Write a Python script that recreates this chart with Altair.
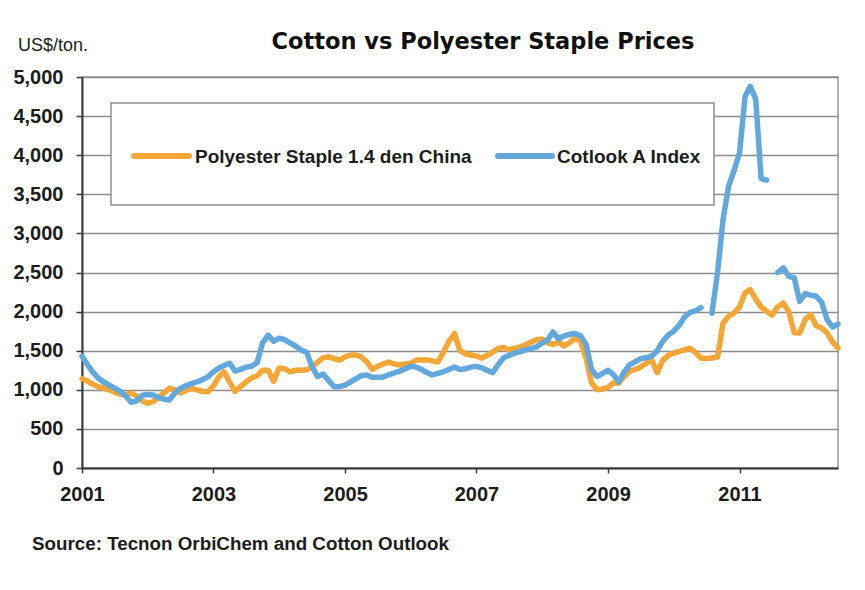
import altair as alt
import pandas as pd

# Monthly observations, Jan 2001 - Jul 2012 (US$/ton)
start_month = "2001-01-01"
n_months = 139

polyester = [
    1140, 1110, 1070, 1040, 1020, 1000, 970, 945, 935, 960, 920, 860,
    830, 850, 900, 960, 1020, 1000, 960, 990, 1020, 1000, 980, 975,
    1050, 1170, 1230, 1100, 980, 1040, 1100, 1150, 1180, 1250, 1250, 1110,
    1280, 1270, 1230, 1250, 1250, 1255, 1290, 1350, 1410, 1420, 1400, 1380,
    1420, 1445, 1445, 1420, 1360, 1260, 1300, 1330, 1355, 1330, 1317, 1330,
    1340, 1380, 1380, 1380, 1370, 1355, 1480, 1620, 1720, 1500, 1460, 1445,
    1430, 1406, 1440, 1483, 1530, 1540, 1510, 1530, 1547, 1580, 1610, 1640,
    1650, 1600, 1580, 1610, 1560, 1600, 1660, 1620, 1400, 1090, 1000, 1010,
    1030, 1090, 1087, 1170, 1240, 1260, 1290, 1340, 1380, 1220, 1380, 1440,
    1470, 1490, 1510, 1530, 1480, 1406, 1400, 1406, 1420, 1850, 1940, 1980,
    2060, 2240, 2280, 2160, 2060, 2000, 1956, 2060, 2110, 2000, 1730, 1726,
    1900, 1960, 1820, 1790, 1730, 1610, 1535,
]

# None marks months with no quote (the line breaks there)
cotlook = [
    1430, 1320, 1230, 1150, 1100, 1060, 1020, 980, 920, 840, 860, 930,
    940, 935, 900, 880, 870, 960, 1020, 1050, 1080, 1100, 1130, 1165,
    1230, 1280, 1310, 1340, 1240, 1260, 1290, 1300, 1350, 1600, 1700, 1620,
    1660, 1640, 1600, 1560, 1510, 1480, 1300, 1170, 1200, 1120, 1040, 1040,
    1060, 1100, 1140, 1180, 1190, 1160, 1160, 1165, 1190, 1215, 1240, 1270,
    1300, 1290, 1260, 1220, 1190, 1210, 1230, 1260, 1290, 1260, 1270, 1290,
    1300, 1280, 1250, 1220, 1320, 1410, 1440, 1470, 1490, 1510, 1530, 1550,
    1600, 1640, 1740, 1650, 1690, 1710, 1720, 1690, 1580, 1260, 1170, 1210,
    1250, 1190, 1100, 1230, 1320, 1360, 1400, 1410, 1430, 1500, 1620, 1700,
    1750, 1830, 1930, 1990, 2010, 2050, None, 1980, 2500, 3170, 3600, 3800,
    4030, 4750, 4880, 4720, 3700, 3680, None, 2500, 2560, 2450, 2430, 2130,
    2230, 2210, 2200, 2120, 1900, 1800, 1840,
]

series_names = ["Polyester Staple 1.4 den China", "Cotlook A Index"]
series_colors = ["#F4A636", "#62A8DC"]
y_ticks = list(range(0, 5001, 500))
x_tick_years = [2001, 2003, 2005, 2007, 2009, 2011]

title_text = "Cotton vs Polyester Staple Prices"
unit_text = "US$/ton."
source_text = "Source: Tecnon OrbiChem and Cotton Outlook"

FONT = "Liberation Sans"
HEAVY_FONT = "DejaVu Sans"
INK = "#1c1c1c"

# Long table; each unbroken run of a series gets its own segment id
months = pd.date_range(start_month, periods=n_months, freq="MS")
rows = []
for name, values in zip(series_names, [polyester, cotlook]):
    seg = 0
    for d, v in zip(months, values):
        if v is None:
            seg += 1
            continue
        rows.append({"date": d, "price": v, "series": name,
                     "segment": f"{name}-{seg}"})
df = pd.DataFrame(rows)

one = pd.DataFrame({"k": [0]})

lines = alt.Chart(df).mark_line(
    strokeWidth=5.5, strokeCap="round", strokeJoin="round"
).encode(
    x=alt.X(
        "date:T",
        scale=alt.Scale(domain=[alt.DateTime(year=2001, month=1, date=1),
                                alt.DateTime(year=2012, month=7, date=1)]),
        axis=alt.Axis(
            values=[alt.DateTime(year=y, month=1, date=1) for y in x_tick_years],
            format="%Y", title=None, grid=False, tickSize=5,
            labelAlign="center", labelFlush=False,
            labelPadding=11, labelFontSize=20, labelFontWeight="bold",
        ),
    ),
    y=alt.Y(
        "price:Q",
        scale=alt.Scale(domain=[0, 5000], nice=False),
        axis=alt.Axis(
            values=y_ticks, format=",.0f", title=None, grid=True, tickSize=6,
            labelPadding=13, labelFontSize=20, labelFontWeight="bold",
        ),
    ),
    color=alt.Color("series:N",
                    scale=alt.Scale(domain=series_names, range=series_colors),
                    legend=None),
    detail="segment:N",
    order=alt.Order("date:T"),
)

# Legend panel drawn inside the plot
legend_box = alt.Chart(one).mark_rect(
    fill="white", stroke="#8f8f8f", strokeWidth=1.5
).encode(x=alt.value(29), x2=alt.value(632), y=alt.value(26), y2=alt.value(128))

legend_poly = alt.Chart(one).mark_rule(
    color=series_colors[0], strokeWidth=6, strokeCap="round"
).encode(x=alt.value(52), x2=alt.value(107), y=alt.value(79))

legend_cot = alt.Chart(one).mark_rule(
    color=series_colors[1], strokeWidth=6, strokeCap="round"
).encode(x=alt.value(416), x2=alt.value(470), y=alt.value(79))

legend_text_style = dict(font=FONT, fontSize=19, fontWeight="bold", color=INK,
                         align="left", baseline="middle")
legend_poly_text = alt.Chart(one).mark_text(
    text=series_names[0], **legend_text_style
).encode(x=alt.value(113), y=alt.value(80))
legend_cot_text = alt.Chart(one).mark_text(
    text=series_names[1], **legend_text_style
).encode(x=alt.value(475), y=alt.value(80))

title = alt.Chart(one).mark_text(
    text=title_text, font=HEAVY_FONT, fontSize=22.5, fontWeight="bold",
    color="#111", align="center", baseline="middle"
).encode(x=alt.value(401), y=alt.value(-35))

unit = alt.Chart(one).mark_text(
    text=unit_text, font=FONT, fontSize=18, color=INK,
    align="left", baseline="middle"
).encode(x=alt.value(-64), y=alt.value(-31))

source = alt.Chart(one).mark_text(
    text=source_text, font=FONT, fontSize=18.8, fontWeight="bold", color=INK,
    align="left", baseline="middle"
).encode(x=alt.value(-50), y=alt.value(467))

chart = alt.layer(
    lines, legend_box, legend_poly, legend_cot, legend_poly_text,
    legend_cot_text, title, unit, source
).properties(
    width=756, height=391,
    autosize=alt.AutoSizeParams(type="none"),
    padding={"left": 82, "top": 77, "right": 27, "bottom": 122},
    background="white",
).configure_view(
    stroke="#999999", strokeWidth=1.5
).configure_axis(
    labelFont=FONT, labelColor=INK,
    domainColor="#3a3a3a", domainWidth=2,
    tickColor="#3a3a3a", tickWidth=1.5,
    gridColor="#8c8c8c", gridWidth=1.5,
)

chart.save("out.html", embed_options={"renderer": "svg", "actions": False})
